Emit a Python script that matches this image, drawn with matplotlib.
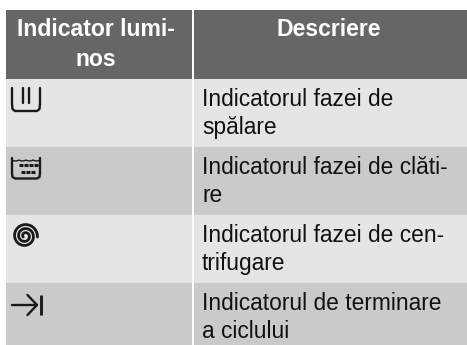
import numpy as np
import matplotlib
matplotlib.use("Agg")
import matplotlib.pyplot as plt

plt.rcParams['font.family'] = ['Liberation Sans', 'DejaVu Sans']

header_left = ["Indicator lumi-", "nos"]
header_right = "Descriere"
descriptions = [
    ["Indicatorul fazei de", "spălare"],
    ["Indicatorul fazei de clăti-", "re"],
    ["Indicatorul fazei de cen-", "trifugare"],
    ["Indicatorul de terminare", "a ciclului"],
]
row_edges = [78.5, 146.7, 214.7, 283, 344.5]
row_colors = ["#e5e5e5", "#cacaca", "#e5e5e5", "#cacaca"]
header_color = "#666666"
ink = "#1a1a1a"

fig = plt.figure(figsize=(4.67, 3.45), dpi=100)
ax = fig.add_axes([0, 0, 1, 1])
ax.set_xlim(0, 467)
ax.set_ylim(345, 0)
ax.axis("off")

L, M1, M2, R = 6, 191.8, 194.3, 467


def cell(x0, x1, y0, y1, c):
    ax.fill_between([x0, x1], y0, y1, color=c, lw=0)


for x0, x1 in [(L, M1), (M2, R)]:
    cell(x0, x1, 10, row_edges[0], header_color)
    for i, c in enumerate(row_colors):
        cell(x0, x1, row_edges[i], row_edges[i + 1], c)

hkw = dict(color="white", fontweight="bold", fontsize=16.6, ha="center", va="baseline")
ax.text(96, 36, header_left[0], **hkw)
ax.text(96, 66, header_left[1], **hkw)
ax.text(329, 36, header_right, **hkw)

for i, lines in enumerate(descriptions):
    for j, line in enumerate(lines):
        ax.text(202, row_edges[i] + 27 + 28.3 * j, line, color="#111111", fontsize=16.4,
                ha="left", va="baseline")

kw = dict(color=ink, lw=1.7, solid_capstyle="round", solid_joinstyle="round")

# wash icon
ax.plot([12, 12, 12.5, 15, 37, 39.5, 40, 40], [88, 104, 109, 111, 111, 109, 104, 88], **kw)
ax.plot([23, 23], [88, 103], **kw)
ax.plot([29, 29], [88, 103], **kw)

# rinse icon
ax.plot([12, 12, 12.5, 15, 37, 39.5, 40, 40], [158, 173, 177, 178.5, 178.5, 177, 173, 158], **kw)
wx = np.linspace(12, 40, 57)
ax.plot(wx, 160 + 1.0 * np.abs(np.sin((wx - 12) * np.pi / 7)), color=ink, lw=1.0)
for x in [21, 26, 31, 36]:
    ax.plot([x - 1.7, x + 1.7], [165, 165], color=ink, lw=2.2, solid_capstyle="butt")
for x in [23, 28, 33]:
    ax.plot([x - 1.7, x + 1.7], [172, 172], color=ink, lw=2.2, solid_capstyle="butt")

# spin icon
t = np.linspace(0, 2.6 * 2 * np.pi, 300)
r = 2.0 + 10.5 * t / t[-1]
ax.plot(25 + r * np.cos(t + 2.6), 236 + r * np.sin(t + 2.6), color=ink, lw=2.0,
        solid_capstyle="round")

# end-of-cycle icon
ax.plot([11.5, 37], [305, 305], **kw)
ax.plot([27.5, 37, 27.5], [295, 305, 315], **kw)
ax.plot([40.5, 40.5], [294.5, 315], color=ink, lw=2.1, solid_capstyle="butt")

fig.savefig("out.png", dpi=100)
